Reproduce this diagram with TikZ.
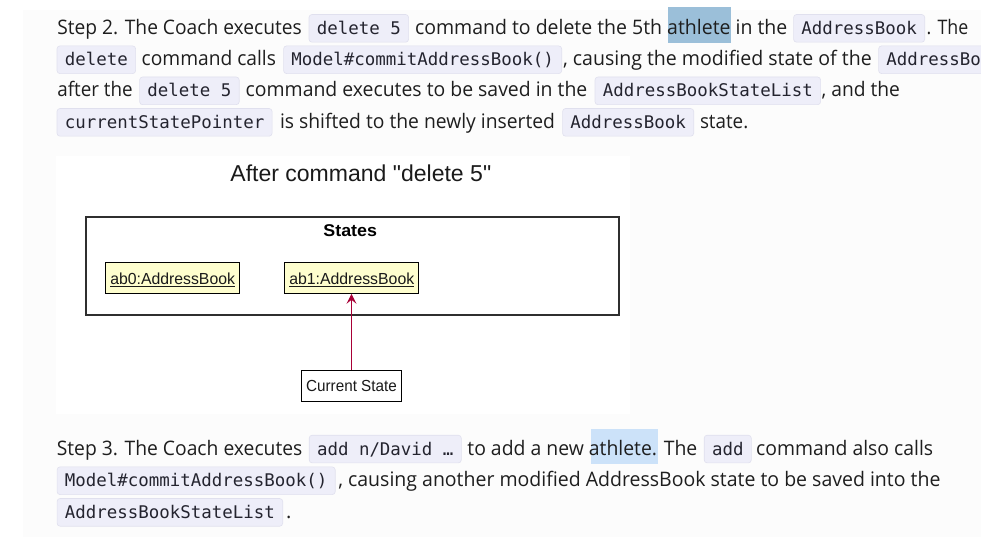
\documentclass[tikz,border=0pt]{standalone}
\usepackage{fontspec}
\usepackage{graphicx}
\usetikzlibrary{arrows.meta}
\newfontfamily\bodyfont{Open Sans}
\newfontfamily\umlfont{Liberation Sans}
\newfontfamily\codefont{DejaVu Sans Mono}
\definecolor{panel}{HTML}{FCFCFC}
\definecolor{bodytext}{HTML}{1E1E1E}
\definecolor{codefill}{HTML}{EEEEF9}
\definecolor{codeborder}{HTML}{E0E0EE}
\definecolor{codetext}{HTML}{24242F}
\definecolor{hlA}{HTML}{9BBFD9}
\definecolor{hlB}{HTML}{CCE2F9}
\definecolor{umlyellow}{HTML}{FEFECE}
\definecolor{umlred}{HTML}{A80036}
\definecolor{framecol}{HTML}{2F2F2F}
\definecolor{umltext}{HTML}{1A1A1A}
\newcommand\fitw[2]{\resizebox{#1pt}{\height}{#2}}
\newcommand\ulfit[2]{\rlap{\rule[-2.8pt]{#1pt}{1.1pt}}\resizebox{#1pt}{\height}{#2}}
\tikzset{
  txt/.style={anchor=base west, inner sep=0pt, outer sep=0pt, text=bodytext,
    font=\bodyfont\fontsize{20}{24}\selectfont},
  codebox/.style={anchor=base west, draw=codeborder, fill=codefill, rounded corners=3pt,
    inner xsep=7.8pt, inner ysep=0pt, text height=19.8pt, text depth=7.9pt, text=codetext,
    line width=0.6pt, font=\codefont\fontsize{17.44}{20}\selectfont},
  umltitle/.style={anchor=base west, inner sep=0pt, text=umltext,
    font=\umlfont\fontsize{23}{27}\selectfont},
  frame/.style={anchor=north west, draw=framecol, line width=1.7pt, inner sep=0pt,
    minimum width=532.7pt, minimum height=98pt},
  umlbold/.style={anchor=base, inner sep=0pt, text=black,
    font=\umlfont\bfseries\fontsize{17}{20}\selectfont},
  obj/.style={draw=black, fill=umlyellow, line width=1pt, inner sep=0pt,
    minimum width=134.3pt, minimum height=31pt, text height=14pt, text depth=1.6pt,
    text=umltext, font=\umlfont\fontsize{16}{19}\selectfont},
  cur/.style={draw=black, fill=white, line width=1pt, inner sep=0pt,
    minimum width=100.3pt, minimum height=31pt, text height=14pt, text depth=1.6pt,
    text=umltext, font=\umlfont\fontsize{16}{19}\selectfont},
  assoc/.style={draw=umlred, line width=1pt, -{Stealth[length=10pt,width=10pt,inset=4pt]}}
}
\begin{document}
\begin{tikzpicture}[x=1pt,y=-1pt]
\useasboundingbox (0,0) rectangle (981,537);
\fill[white] (0,0) rectangle (981,537);
\fill[panel] (23,10) rectangle (981,537);
\fill[white] (56,156) rectangle (630,414);

% ---- Step 2 paragraph
\fill[hlA] (667.7,6.7) rectangle (731,42.7);
\node[txt] (l1a) at (57.3,34.3) {\fitw{244.4}{Step 2. The Coach executes}};
\node[codebox] (l1b) at (308.7,34.3) {delete 5};
\node[txt] (l1c) at (415,34.3) {\fitw{372.3}{command to delete the 5th athlete in the}};
\node[codebox] (l1d) at (793.3,34.3) {AddressBook};
\node[txt] (l1e) at (926.7,34.3) {\fitw{41.6}{. The}};

\node[codebox] (l2a) at (56.7,65.7) {delete};
\node[txt] (l2b) at (141.7,65.7) {\fitw{134.3}{command calls}};
\node[codebox] (l2c) at (283.3,65.7) {Model\#commitAddressBook()};
\node[txt] (l2d) at (563,65.7) {\fitw{308.7}{, causing the modified state of the}};
\node[codebox] (l2e) at (878.3,65.7) {AddressBo};

\node[txt] (l3a) at (57.3,96.8) {\fitw{75.4}{after the}};
\node[codebox] (l3b) at (139.3,96.8) {delete 5};
\node[txt] (l3c) at (245.7,96.8) {\fitw{341.6}{command executes to be saved in the}};
\node[codebox] (l3d) at (594.7,96.8) {AddressBookStateList};
\node[txt] (l3e) at (821.7,96.8) {\fitw{78.3}{, and the}};

\node[codebox] (l4a) at (56.7,128.3) {currentStatePointer};
\node[txt] (l4b) at (280,128.3) {\fitw{275}{is shifted to the newly inserted}};
\node[codebox] (l4c) at (562.3,128.3) {AddressBook};
\node[txt] (l4d) at (700,128.3) {\fitw{48.3}{state.}};

% ---- Diagram
\node[umltitle] (title) at (230.2,181.7) {\fitw{260.8}{After command "delete 5"}};
\node[frame] (states) at (85.2,216) {};
\node[umlbold] (stitle) at (350.2,236.7) {\fitw{53.6}{States}};
\node[obj] (ab0) at (172.65,277.8) {\ulfit{124.7}{ab0:AddressBook}};
\node[obj] (ab1) at (351.75,277.8) {\ulfit{125}{ab1:AddressBook}};
\node[cur] (cs) at (351.5,385.5) {\fitw{90.6}{Current State}};
\draw[assoc] (cs.north) -- (cs.north |- ab1.south);

% ---- Step 3 paragraph
\fill[hlB] (591,429) rectangle (658.3,464.3);
\node[txt] (m1a) at (56.8,455) {\fitw{245.5}{Step 3. The Coach executes}};
\node[codebox] (m1b) at (308.9,455) {add n/David …};
\node[txt] (m1c) at (467.4,455) {\fitw{229.9}{to add a new athlete. The}};
\node[codebox] (m1d) at (703.9,455) {add};
\node[txt] (m1e) at (756.1,455) {\fitw{177.1}{command also calls}};

\node[codebox] (m2a) at (56.8,486.7) {Model\#commitAddressBook()};
\node[txt] (m2b) at (338.3,486.7) {\fitw{602.1}{, causing another modified AddressBook state to be saved into the}};

\node[codebox] (m3a) at (56.8,518.3) {AddressBookStateList};
\node[txt] (m3b) at (286,518.3) {.};
\end{tikzpicture}
\end{document}
